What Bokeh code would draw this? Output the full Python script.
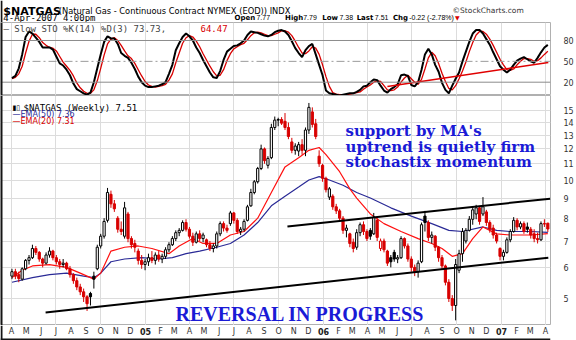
import pandas as pd
from bokeh.plotting import figure
from bokeh.layouts import column
from bokeh.models import Range1d, FixedTicker, Label, Span, ColumnDataSource, BoxAnnotation
from bokeh.core.properties import value
from bokeh.embed import file_html
from bokeh.resources import INLINE

# ---------------- data (weekly candles) ----------------
first_week = "2004-04-02"
opens = [5.70, 5.85, 5.75, 5.60, 5.95, 6.25, 6.35, 6.70, 6.55, 6.30,
         6.15, 6.45, 6.60, 6.35, 6.20, 6.10, 6.15, 5.95, 5.75, 5.55,
         5.35, 5.20, 5.05, 5.15, 5.70, 5.95, 6.80, 7.20, 7.90, 9.20,
         8.70, 8.00, 7.50, 7.20, 8.20, 7.10, 6.90, 6.60, 6.25, 6.10,
         6.20, 6.35, 6.25, 6.45, 6.30, 6.40, 6.65, 6.85, 7.10, 7.35,
         7.45, 7.80, 7.50, 7.20, 6.95, 7.30, 7.10, 7.05, 6.85, 6.70,
         6.80, 7.30, 7.75, 7.55, 7.75, 8.25, 7.90, 7.40, 7.50, 7.90,
         8.60, 9.30, 9.90, 10.70, 12.00, 10.90, 11.40, 13.60, 14.20, 14.25,
         14.10, 13.60, 12.50, 11.90, 11.85, 12.30, 11.90, 13.40, 14.90, 13.90,
         11.50, 10.90, 10.10, 9.05, 9.10, 8.55, 8.35, 8.00, 7.45, 7.30,
         6.95, 6.75, 7.35, 7.70, 7.40, 7.45, 7.30, 7.90, 6.70, 7.00,
         6.60, 6.35, 6.55, 6.30, 6.35, 7.10, 6.80, 6.30, 6.00, 5.85,
         6.20, 8.10, 7.80, 7.15, 7.20, 6.75, 6.35, 6.05, 5.50, 5.00,
         4.80, 5.90, 6.50, 7.00, 7.45, 7.95, 8.20, 8.50, 8.20, 8.30,
         7.80, 7.55, 7.25, 6.70, 6.40, 6.55, 7.05, 7.40, 7.90, 7.60,
         7.75, 7.60, 7.50, 7.30, 7.10, 7.05, 7.75, 7.77]
highs = [5.95, 5.95, 5.85, 6.00, 6.30, 6.45, 6.85, 6.80, 6.60, 6.35,
         6.55, 6.75, 6.65, 6.45, 6.30, 6.30, 6.20, 6.05, 5.80, 5.65,
         5.45, 5.30, 5.10, 5.20, 5.85, 6.85, 7.30, 8.00, 9.55, 9.40,
         8.90, 8.10, 7.85, 8.80, 8.30, 7.20, 7.05, 6.70, 6.45, 6.30,
         6.50, 6.60, 6.55, 6.60, 6.50, 6.75, 6.95, 7.20, 7.45, 7.55,
         7.90, 7.95, 7.60, 7.35, 7.40, 7.45, 7.35, 7.10, 7.00, 6.90,
         7.40, 7.85, 7.85, 7.70, 8.35, 8.30, 8.00, 7.60, 7.95, 8.65,
         9.50, 10.00, 10.80, 12.30, 12.10, 11.50, 13.90, 14.50, 14.40, 14.45,
         14.80, 14.00, 12.80, 12.40, 12.50, 12.70, 13.60, 15.70, 15.30, 14.30,
         11.90, 11.00, 10.20, 9.60, 9.20, 8.70, 8.45, 8.10, 7.70, 7.35,
         7.10, 7.50, 7.80, 7.85, 7.50, 7.55, 8.25, 8.00, 7.10, 7.10,
         6.65, 6.45, 6.65, 6.45, 7.20, 7.15, 6.90, 6.40, 6.10, 6.25,
         7.80, 8.35, 7.90, 7.40, 7.25, 6.80, 6.45, 6.10, 5.60, 5.10,
         6.30, 6.65, 7.55, 7.55, 8.10, 8.55, 8.65, 8.60, 9.05, 8.40,
         7.90, 7.70, 7.35, 6.75, 6.65, 7.15, 7.50, 8.05, 8.00, 7.85,
         7.85, 7.80, 7.60, 7.50, 7.35, 7.85, 7.95, 7.79]
lows = [5.60, 5.60, 5.50, 5.55, 5.90, 6.10, 6.30, 6.45, 6.20, 6.00,
        6.10, 6.35, 6.25, 6.10, 5.95, 6.00, 5.90, 5.65, 5.45, 5.25,
        5.10, 4.90, 4.65, 4.80, 5.30, 5.90, 6.70, 7.10, 7.80, 8.50,
        8.30, 7.35, 7.25, 7.10, 6.95, 6.70, 6.55, 6.10, 5.95, 5.90,
        6.05, 6.15, 6.10, 6.20, 6.15, 6.30, 6.55, 6.80, 7.00, 7.20,
        7.40, 7.40, 7.10, 6.80, 6.90, 7.00, 6.95, 6.75, 6.60, 6.55,
        6.70, 7.20, 7.40, 7.35, 7.65, 7.75, 7.30, 7.25, 7.40, 7.85,
        8.55, 9.20, 9.80, 10.60, 11.00, 10.70, 11.30, 13.40, 13.70, 13.80,
        13.40, 12.70, 11.70, 11.60, 11.50, 11.60, 11.50, 13.10, 13.60, 12.70,
        10.80, 9.90, 9.30, 8.90, 8.40, 8.20, 7.85, 7.30, 7.15, 6.75,
        6.55, 6.65, 7.20, 7.25, 7.00, 7.05, 7.25, 7.00, 6.60, 6.55,
        6.05, 6.00, 6.20, 6.15, 6.30, 6.70, 6.20, 5.85, 5.70, 5.65,
        6.15, 7.40, 7.00, 6.90, 6.60, 6.20, 5.95, 5.40, 4.90, 4.65,
        4.40, 5.80, 6.20, 6.90, 7.40, 7.70, 7.95, 7.70, 8.10, 7.65,
        7.35, 7.10, 6.90, 6.25, 6.25, 6.50, 6.95, 7.35, 7.45, 7.50,
        7.30, 7.35, 7.10, 6.95, 6.90, 7.00, 7.60, 7.38]
closes = [5.85, 5.70, 5.62, 5.95, 6.25, 6.35, 6.70, 6.55, 6.30, 6.15,
          6.45, 6.60, 6.35, 6.20, 6.10, 6.15, 5.95, 5.75, 5.55, 5.35,
          5.20, 5.05, 4.85, 5.05, 5.60, 6.75, 7.20, 7.85, 9.30, 8.70,
          8.45, 7.50, 7.40, 8.50, 7.10, 6.85, 6.75, 6.25, 6.10, 6.20,
          6.35, 6.25, 6.45, 6.30, 6.40, 6.65, 6.85, 7.10, 7.35, 7.45,
          7.80, 7.50, 7.20, 6.95, 7.30, 7.10, 7.25, 6.85, 6.70, 6.80,
          7.30, 7.75, 7.55, 7.45, 8.25, 7.90, 7.40, 7.50, 7.85, 8.55,
          9.30, 9.90, 10.70, 12.00, 11.20, 11.35, 13.60, 14.20, 14.25, 13.95,
          13.60, 12.90, 11.90, 12.20, 12.30, 11.90, 13.40, 15.30, 13.85, 12.90,
          11.00, 10.10, 9.45, 9.50, 8.55, 8.35, 8.00, 7.45, 7.55, 6.90,
          6.70, 7.35, 7.70, 7.40, 7.10, 7.20, 8.05, 7.15, 7.00, 6.65,
          6.15, 6.20, 6.30, 6.35, 7.10, 6.80, 6.30, 6.00, 5.85, 6.15,
          7.70, 7.80, 7.15, 7.25, 6.75, 6.35, 6.05, 5.50, 5.00, 4.80,
          6.10, 6.50, 7.40, 7.45, 7.95, 8.40, 8.50, 7.85, 8.55, 7.80,
          7.50, 7.25, 7.00, 6.40, 6.55, 7.05, 7.40, 7.90, 7.60, 7.75,
          7.40, 7.50, 7.25, 7.10, 7.05, 7.75, 7.73, 7.51]

# moving averages at selected weeks (index into weeks)
ema20_weeks = [0, 3, 6, 11, 16, 20, 24, 26, 29, 33, 37, 41, 46, 49, 53, 56, 60, 64, 68, 72, 76,
               80, 84, 87, 90, 92, 96, 99, 101, 105, 109, 114, 119, 123, 126, 129, 132, 135,
               138, 142, 146, 152, 157]
ema20_vals = [5.65, 5.9, 6.05, 6.1, 6.0, 5.8, 5.6, 5.8, 6.6, 6.75, 6.8, 6.7, 6.5, 6.8, 7.1, 6.9,
              6.9, 7.25, 7.4, 8.0, 9.3, 10.8, 11.4, 11.9, 12.1, 11.6, 10.5, 9.5, 9.0, 8.2, 7.75,
              7.4, 7.1, 6.9, 6.7, 6.4, 6.5, 7.1, 7.6, 7.3, 7.25, 7.25, 7.31]
ema50_weeks = [0, 6, 11, 16, 21, 24, 26, 29, 33, 38, 43, 47, 51, 55, 60, 64, 68, 72, 76, 80, 84,
               87, 90, 93, 97, 101, 105, 111, 117, 123, 128, 132, 138, 142, 146, 152, 157]
ema50_vals = [5.5, 5.65, 5.75, 5.8, 5.7, 5.65, 5.8, 6.2, 6.3, 6.35, 6.3, 6.35, 6.5, 6.6, 6.75,
              6.9, 7.25, 7.8, 8.6, 9.1, 9.6, 10.0, 10.2, 10.0, 9.7, 9.3, 9.0, 8.5, 8.1, 7.75,
              7.45, 7.4, 7.6, 7.45, 7.4, 7.4, 7.36]

# slow stochastics (%K black, %D red), one value per week
sto_k = [26, 29, 40, 60, 85, 93, 90, 84, 78, 70, 70, 70, 67, 57, 47, 44, 38, 30, 18, 10,
         7, 4, 2, 5, 20, 40, 60, 78, 86, 83, 83, 75, 62, 58, 55, 48, 39, 28, 20, 15,
         13, 13, 14, 15, 17, 20, 32, 45, 66, 76, 85, 90, 86, 80, 70, 62, 52, 43, 34, 27,
         26, 36, 52, 64, 68, 72, 73, 76, 80, 88, 93, 92, 91, 89, 87, 86, 88, 92, 94, 95,
         93, 88, 79, 69, 62, 56, 66, 72, 75, 60, 45, 30, 8, 4, 3, 2, 1, 2, 3, 4,
         4, 6, 9, 14, 15, 20, 24, 23, 15, 8, 5, 10, 13, 17, 30, 31, 29, 16, 14, 20,
         38, 60, 68, 60, 45, 35, 19, 9, 4, 15, 25, 34, 50, 64, 78, 90, 95, 95, 90, 82,
         74, 63, 53, 43, 38, 34, 38, 45, 51, 54, 56, 53, 50, 48, 55, 63, 70, 73.73]
sto_d = [25, 27, 32, 43, 62, 79, 89, 89, 84, 77, 73, 70, 69, 65, 57, 49, 43, 37, 29, 19,
         12, 7, 4, 4, 9, 22, 40, 59, 75, 82, 84, 80, 73, 65, 58, 54, 47, 38, 29, 21,
         16, 14, 13, 14, 15, 17, 23, 32, 48, 62, 76, 84, 87, 85, 79, 71, 61, 52, 43, 35,
         29, 30, 38, 51, 61, 68, 71, 74, 76, 81, 87, 91, 92, 91, 89, 87, 87, 89, 91, 94,
         94, 92, 87, 79, 70, 62, 61, 65, 71, 69, 60, 45, 28, 14, 5, 3, 2, 2, 2, 3,
         4, 5, 6, 10, 13, 16, 20, 22, 21, 15, 9, 8, 9, 13, 20, 26, 30, 25, 20, 17,
         24, 39, 55, 63, 58, 47, 33, 21, 11, 9, 15, 25, 36, 49, 64, 77, 88, 93, 93, 89,
         82, 73, 63, 53, 45, 38, 37, 39, 45, 50, 54, 54, 53, 50, 51, 55, 60, 64.47]

# trend lines drawn by the analyst (date, value)
support_line = (["2004-06-10", "2007-04-07"], [4.61, 6.35])
channel_top = (["2005-10-19", "2007-04-11"], [7.62, 8.97])
sto_trend = (["2006-05-12", "2007-04-07"], [13.8, 48.3])

month_labels = ["A", "M", "J", "J", "A", "S", "O", "N", "D", "05", "F", "M",
                "A", "M", "J", "J", "A", "S", "O", "N", "D", "06", "F", "M",
                "A", "M", "J", "J", "A", "S", "O", "N", "D", "07", "F", "M", "A"]
price_ticks = [5, 6, 7, 8, 9, 10, 11, 12, 13, 14, 15]
sto_ticks = [20, 50, 80]

# ---------------- derived helpers ----------------
dates = pd.date_range(first_week, periods=len(closes), freq="7D")
month_starts = pd.date_range("2004-04-01", periods=len(month_labels), freq="MS")
quarter_starts = [t for t in month_starts if t.month in (1, 4, 7, 10)]

RED = "#d80000"
colors, fills = [], []
prev = opens[0]
for o, c in zip(opens, closes):
    col = RED if c < prev else "#000000"
    colors.append(col)
    fills.append("#ffffff" if c > o else col)
    prev = c

src = ColumnDataSource(dict(
    date=dates, high=highs, low=lows,
    top=[max(o, c) for o, c in zip(opens, closes)],
    bottom=[min(o, c) for o, c in zip(opens, closes)],
    color=colors, fill=fills))

x_start = pd.Timestamp("2004-03-09 12:00")
x_end = pd.Timestamp("2007-04-11 12:00")
xr = Range1d(start=x_start, end=x_end)
edge = x_start + pd.Timedelta(days=4.1)   # ~2 px wide dark border strip at the left edge

GRID = "#dcdcdc"
FONT = "DejaVu Sans"
SANS2 = "Liberation Sans"
MONO = "DejaVu Sans Mono"
BORDER = "#151515"
RIGHT = 26
W = 576
HDR = 22


def base_fig(height, **kw):
    p = figure(width=W, height=height, output_backend="svg", toolbar_location=None,
               min_border_left=0, min_border_right=RIGHT, min_border_top=0, min_border_bottom=0,
               **kw)
    p.background_fill_color = "white"
    p.border_fill_color = "white"
    return p


def style_yaxis(p):
    for ax in p.yaxis:
        ax.axis_line_color = None
        ax.major_tick_line_color = None
        ax.minor_tick_line_color = None
        ax.major_label_standoff = 7
        ax.major_label_text_font = FONT
        ax.major_label_text_font_size = "8px"
        ax.major_label_text_color = "#333333"


# ---------------- header strip (pixel coordinates) ----------------
hdr = figure(width=W, height=HDR, x_range=Range1d(0, W), y_range=Range1d(HDR, 0),
             x_axis_location=None, y_axis_location=None, output_backend="svg",
             toolbar_location=None, min_border=0)
hdr.grid.visible = False
hdr.outline_line_color = None
hdr.add_layout(BoxAnnotation(right=2, fill_color=BORDER, fill_alpha=1, line_alpha=0))


def hlab(x, y, text, size="8px", bold=False, color="#000000", font=FONT, align="left"):
    hdr.add_layout(Label(x=x, y=y, text=text, text_font=font, text_font_size=size,
                         text_font_style="bold" if bold else "normal", text_color=color,
                         text_align=align, text_baseline="alphabetic"))


hlab(3, 11, "$NATGAS", size="11px", bold=True)
hlab(61, 10, "(Natural Gas - Continuous Contract NYMEX (EOD)) INDX", size="8.3px")
hlab(548, 10, "\u00a9StockCharts.com", size="7.5px", color="#333333", align="right")
hlab(3, 17, "4-Apr-2007 4:00pm", size="9px", font=MONO)
for x, t, b in ((245, "Open", True), (268, "7.77", False), (298, "High", True), (317, "7.79", False),
                (337, "Low", True), (355, "7.38", False), (373, "Last", True), (392, "7.51", False),
                (411, "Chg", True), (428, "-0.22 (-2.78%)", False)):
    if b:
        hlab(x, 17, t, size="7px", bold=True)
    else:
        hlab(x, 17, t, size="7px", font=SANS2)
hlab(476, 17, "\u25bc", size="6px", color=RED)

# ---------------- stochastic panel ----------------
sto = base_fig(95 - HDR, x_range=xr, y_range=Range1d(0.86, 105.9), x_axis_type="datetime",
               x_axis_location=None, y_axis_location="right")
sto.xgrid.ticker = FixedTicker(ticks=[t.value // 10**6 for t in quarter_starts])
sto.xgrid.grid_line_color = GRID
sto.ygrid.visible = False
sto.yaxis.ticker = FixedTicker(ticks=sto_ticks)
style_yaxis(sto)
sto.outline_line_color = "#b0b0b0"
for s_val, dash, colr in ((80, "solid", "#8c8c8c"), (20, "solid", "#8c8c8c"), (50, "8 3 2 3", "#9a9a9a")):
    sto.add_layout(Span(location=s_val, dimension="width", line_color=colr, line_width=1,
                        line_dash=dash))
sto.line(dates, sto_d, line_color=RED, line_width=1.3)
sto.line(dates, sto_k, line_color="#000000", line_width=2)
sto.line([pd.Timestamp(d) for d in sto_trend[0]], sto_trend[1], line_color="#e00000", line_width=1.6)
sto.add_layout(BoxAnnotation(right=edge, fill_color=BORDER, fill_alpha=1, line_alpha=0))
# legend (screen units: from frame left / frame bottom at image y 95)
sto.add_layout(Label(x=3, y=67, x_units="screen", y_units="screen",
                     text="\u2014 Slow STO %K(14) %D(3) 73.73,", text_font=MONO,
                     text_font_size="9px", text_baseline="alphabetic"))
sto.add_layout(Label(x=200, y=67, x_units="screen", y_units="screen", text="64.47",
                     text_font=MONO, text_font_size="9px", text_color=RED,
                     text_baseline="alphabetic"))

# ---------------- price panel ----------------
pr = base_fig(230, x_range=xr, y_range=Range1d(4.27, 16.4), x_axis_type="datetime",
              y_axis_type="log", x_axis_location=None, y_axis_location="right")
pr.xgrid.ticker = FixedTicker(ticks=[t.value // 10**6 for t in quarter_starts])
pr.xgrid.grid_line_color = GRID
pr.ygrid.ticker = FixedTicker(ticks=price_ticks)
pr.ygrid.grid_line_color = GRID
pr.yaxis.ticker = FixedTicker(ticks=price_ticks)
pr.yaxis.major_label_overrides = {float(t): str(t) for t in price_ticks}
style_yaxis(pr)
pr.outline_line_color = "#b0b0b0"

pr.line([dates[i] for i in ema50_weeks], ema50_vals, line_color="#2a2a96", line_width=1.2)
pr.line([dates[i] for i in ema20_weeks], ema20_vals, line_color="#ff1010", line_width=1.2)
pr.segment(x0="date", y0="high", x1="date", y1="low", line_color="color", line_width=1, source=src)
pr.vbar(x="date", width=4.5 * 86400000, top="top", bottom="bottom", fill_color="fill",
        line_color="color", line_width=1, source=src)
pr.line([pd.Timestamp(d) for d in support_line[0]], support_line[1], line_color="black", line_width=2)
pr.line([pd.Timestamp(d) for d in channel_top[0]], channel_top[1], line_color="black", line_width=2)
pr.add_layout(BoxAnnotation(right=edge, fill_color=BORDER, fill_alpha=1, line_alpha=0))


def plab(x, y, text, size="8px", bold=False, color="#000000", font=FONT):
    # x from image left, y = baseline in image pixels (price frame spans image y 95..325)
    pr.add_layout(Label(x=x, y=325 - y, x_units="screen", y_units="screen", text=text,
                        text_font=font, text_font_size=size,
                        text_font_style="bold" if bold else "normal",
                        text_color=color, text_baseline="alphabetic"))


plab(12, 107, "\u25ae\u25af", size="7px")
plab(23, 107, "$NATGAS (Weekly) 7.51", size="9px", font=MONO)
plab(12, 114, "\u2014EMA(50) 7.36", color="#2a2a96")
plab(12, 121, "\u2014EMA(20) 7.31", color=RED)

BLUE = "#1a1ad6"
plab(345, 130, "support by MA's", size="15px", bold=True, color=BLUE, font="DejaVu Serif")
plab(345, 146, "uptrend is quietly firm", size="15px", bold=True, color=BLUE, font="DejaVu Serif")
plab(345, 161, "stochastix momentum", size="15px", bold=True, color=BLUE, font="DejaVu Serif")
plab(175, 313, "REVERSAL IN PROGRESS", size="20px", bold=True, color=BLUE, font="Liberation Serif")

# ---------------- month labels strip ----------------
axf = base_fig(15, x_range=xr, y_range=Range1d(15, 0), x_axis_type="datetime",
               x_axis_location=None, y_axis_location=None)
axf.grid.visible = False
axf.outline_line_color = None
m_src = ColumnDataSource(dict(x=[t for t, l in zip(month_starts, month_labels) if not l.isdigit()],
                              t=[l for l in month_labels if not l.isdigit()]))
y_src = ColumnDataSource(dict(x=[t for t, l in zip(month_starts, month_labels) if l.isdigit()],
                              t=[l for l in month_labels if l.isdigit()]))
axf.text(x="x", y=6, text="t", source=m_src, text_font=value(FONT), text_font_size="8px",
         text_color="#333333", text_align="center", text_baseline="middle")
axf.text(x="x", y=6, text="t", source=y_src, text_font=value(FONT), text_font_size="8px",
         text_font_style="bold", text_color="#222222", text_align="center", text_baseline="middle")
axf.add_layout(BoxAnnotation(right=edge, fill_color=BORDER, fill_alpha=1, line_alpha=0))
axf.add_layout(BoxAnnotation(bottom=13, top=15, fill_color=BORDER, fill_alpha=1, line_alpha=0))

layout = column(hdr, sto, pr, axf, spacing=0)
open("out.html", "w").write(file_html(layout, INLINE))
